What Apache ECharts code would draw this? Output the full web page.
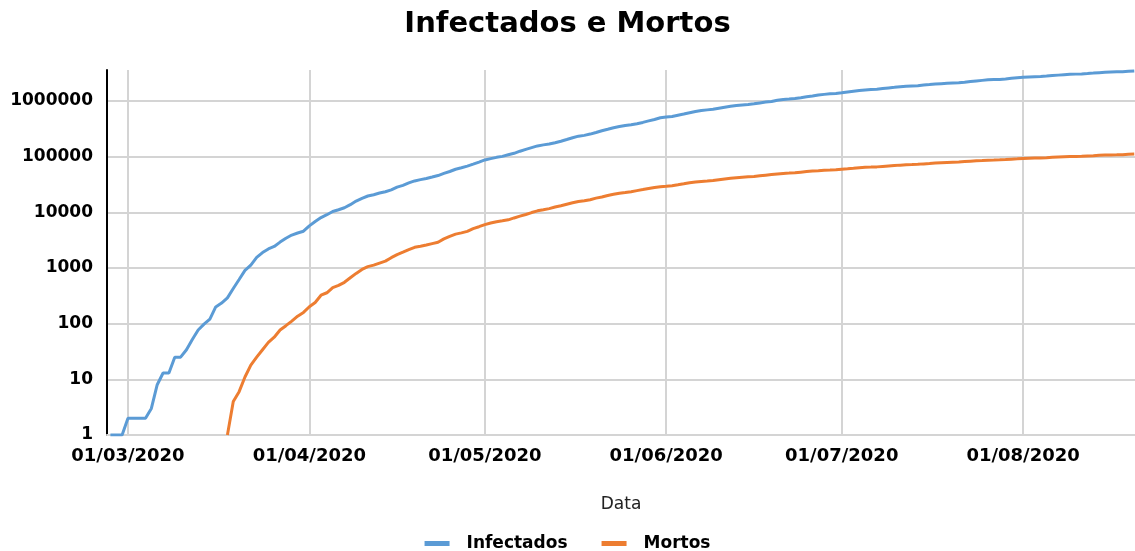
<!DOCTYPE html>
<html>
<head>
<meta charset="utf-8">
<script src="https://cdn.jsdelivr.net/npm/echarts@6/dist/echarts.min.js"></script>
<style>
html,body{margin:0;padding:0;background:#fff;}
#chart{width:1135px;height:551px;}
</style>
</head>
<body>
<div id="chart"></div>
<script>
// ---- data ----
const titleText = 'Infectados e Mortos';
const seriesNames = ['Infectados', 'Mortos'];
const xAxisName = 'Data';
const yTickValues = [1, 10, 100, 1000, 10000, 100000, 1000000];

// daily series, first value on the start date, one value per day
const infectadosStart = [2020, 2, 27];
const infectados = [
  1, 1, 1, 2,
  2, 2, 2, 3, 8, 13, 13, 25, 25, 34, 52, 77, 98, 121, 200, 234, 291, 428, 621, 904, 1128, 1546, 1891, 2201, 2433, 2915, 3417, 3904, 4256, 4579, 5717,
  6836, 8044, 9056, 10360, 11130, 12056, 13717, 15927, 17857, 19638, 20727, 22169, 23430, 25262, 28320, 30425, 33682, 36599, 38654, 40581, 43079, 45757, 50036, 54043, 59324, 63100, 67446, 73235, 79685, 87187,
  92202, 97100, 101147, 108266, 114715, 125218, 135106, 145328, 155939, 162699, 168331, 177589, 188974, 202918, 218223, 233142, 241080, 254220, 271628, 291579, 310087, 330890, 347398, 363211, 374898, 391222, 411821, 438238, 465166, 498440, 514849,
  526447, 555383, 584016, 614941, 645771, 672846, 691758, 707412, 739503, 772416, 802828, 828810, 850514, 867624, 888271, 923189, 955377, 978142, 1032913, 1067579, 1085038, 1106470, 1145906, 1188631, 1228114, 1274974, 1313667, 1344143, 1368195, 1402041,
  1448753, 1496858, 1539081, 1577004, 1603055, 1623284, 1668589, 1713160, 1755779, 1800827, 1839850, 1864681, 1884967, 1926824, 1966748, 2012151, 2046328, 2074860, 2098389, 2118646, 2159654, 2227514, 2287475, 2343366, 2394513, 2419091, 2442375, 2483191, 2552265, 2610102, 2662485,
  2707877, 2733677, 2750318, 2801921, 2859073, 2912212, 2962442, 3012412, 3035422, 3057470, 3109630, 3164785, 3224876, 3275520, 3317096, 3340197, 3359570, 3407354, 3456652
];

const mortosStart = [2020, 3, 18];
const mortos = [
  1, 4, 6, 11, 18, 25, 34, 46, 57, 77, 92, 111, 136, 159, 201,
  240, 324, 359, 445, 486, 553, 667, 800, 941, 1056, 1124, 1223, 1328, 1532, 1736, 1924, 2141, 2354, 2462, 2587, 2741, 2906, 3331, 3704, 4057, 4271, 4543, 5083, 5513, 6006,
  6412, 6761, 7025, 7321, 7921, 8536, 9146, 9897, 10627, 11123, 11653, 12461, 13149, 13993, 14817, 15633, 16118, 16853, 17971, 18859, 20047, 21048, 22013, 22666, 23473, 24512, 25598, 26754, 27878, 28834, 29314,
  29937, 31199, 32548, 34021, 35026, 35930, 36455, 37134, 38406, 39680, 40919, 41828, 42720, 43332, 43959, 45241, 46510, 47748, 48954, 49976, 50617, 51271, 52645, 53830, 54971, 55961, 57070, 57622, 58314, 59594,
  60632, 61884, 63174, 64265, 64867, 65487, 66741, 67964, 69184, 70398, 71469, 72100, 72833, 74133, 75366, 76688, 77851, 78772, 79488, 80120, 81487, 82771, 84082, 85238, 86449, 87004, 87618, 88539, 90134, 91263, 92475,
  93563, 94104, 94665, 95819, 97256, 98493, 99572, 100477, 101049, 101752, 103026, 104201, 105463, 106523, 107232, 107852, 108536, 109888, 111100
];

// axis range
const xMin = new Date(2020, 1, 26, 10, 0).getTime();
const xMax = new Date(2020, 7, 20, 3, 0).getTime();
const yMin = 1;
const yMax = 3600000;

// ---- build ----
function toPairs(start, values) {
  return values.map(function (v, i) {
    return [new Date(start[0], start[1] - 1, start[2] + i).getTime(), v];
  });
}
function pad(n) { return (n < 10 ? '0' : '') + n; }

const chart = echarts.init(document.getElementById('chart'), null, { renderer: 'canvas' });
const labelFont = 'DejaVu Sans';
chart.setOption({
  animation: false,
  backgroundColor: '#ffffff',
  color: ['#5B9BD5', '#ED7D31'],
  title: {
    text: titleText,
    left: 'center',
    top: 5,
    textStyle: { fontFamily: labelFont, fontWeight: 'bold', fontSize: 29, color: '#000' }
  },
  legend: {
    data: seriesNames,
    bottom: -6,
    left: 'center',
    icon: 'rect',
    itemWidth: 25,
    itemHeight: 5,
    itemGap: 34,
    textStyle: { fontFamily: labelFont, fontWeight: 'bold', fontSize: 17, color: '#000', padding: [0, 0, 0, 12] }
  },
  grid: { left: 107, right: 0, top: 70, bottom: 116 },
  xAxis: {
    type: 'time',
    min: xMin,
    max: xMax,
    minInterval: 28 * 86400000,
    maxInterval: 31 * 86400000,
    name: xAxisName,
    nameLocation: 'middle',
    nameGap: 61,
    nameTextStyle: { fontFamily: labelFont, fontSize: 17, color: '#222' },
    axisLine: { show: true, lineStyle: { color: '#d4d4d4', width: 2 } },
    axisTick: { show: false },
    axisLabel: {
      margin: 12,
      fontFamily: labelFont,
      fontWeight: 'bold',
      fontSize: 18,
      color: '#000',
      showMinLabel: false,
      showMaxLabel: false,
      hideOverlap: false,
      formatter: function (val) {
        const d = new Date(val);
        return pad(d.getDate()) + '/' + pad(d.getMonth() + 1) + '/' + d.getFullYear();
      }
    },
    splitLine: { show: true, showMinLine: false, showMaxLine: false, lineStyle: { color: '#d4d4d4', width: 2 } }
  },
  yAxis: {
    type: 'log',
    logBase: 10,
    min: yMin,
    max: yMax,
    interval: 1,
    axisLine: { show: true, lineStyle: { color: '#000', width: 2 } },
    axisTick: { show: false },
    axisLabel: {
      margin: 14,
      fontFamily: labelFont,
      fontWeight: 'bold',
      fontSize: 17,
      color: '#000',
      showMaxLabel: false,
      formatter: function (v) {
        return yTickValues.indexOf(Math.round(v)) >= 0 ? String(Math.round(v)) : '';
      }
    },
    splitLine: { show: true, showMaxLine: false, lineStyle: { color: '#d4d4d4', width: 2 } }
  },
  series: [
    {
      name: seriesNames[0],
      type: 'line',
      data: toPairs(infectadosStart, infectados),
      showSymbol: false,
      symbol: 'none',
      lineStyle: { width: 3 },
      z: 3
    },
    {
      name: seriesNames[1],
      type: 'line',
      data: toPairs(mortosStart, mortos),
      showSymbol: false,
      symbol: 'none',
      lineStyle: { width: 3 },
      z: 3
    }
  ]
});
</script>
</body>
</html>
